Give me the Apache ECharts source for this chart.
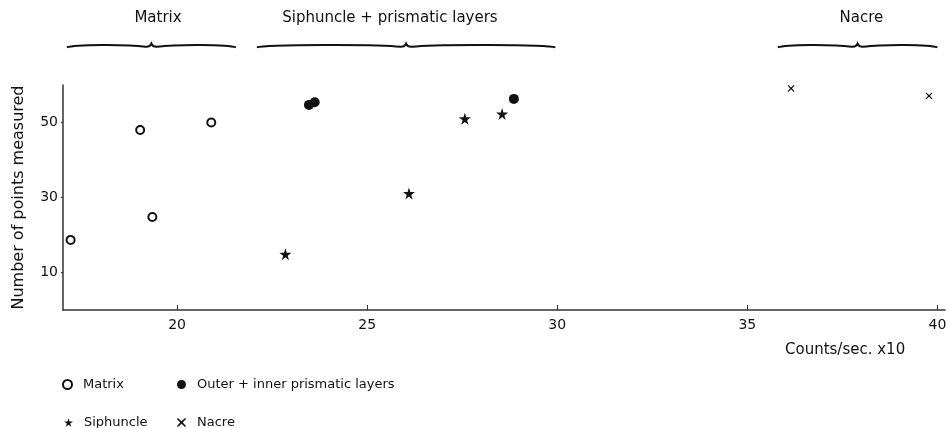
<!DOCTYPE html>
<html>
<head>
<meta charset="utf-8">
<script src="https://cdn.jsdelivr.net/npm/echarts@6/dist/echarts.min.js"></script>
<style>
html,body{margin:0;padding:0;background:#fff;}
#chart{width:949px;height:428px;}
</style>
</head>
<body>
<div id="chart"></div>
<script>
// ---- data ----
const matrixPts = [[17.2, 18.7], [19.03, 48.0], [19.35, 24.8], [20.9, 50.0]];
const prismaticPts = [[23.47, 54.7], [23.62, 55.4], [28.86, 56.3]];
const siphunclePts = [[22.85, 14.9], [26.1, 31.1], [27.57, 51.0], [28.55, 52.3]];
const nacrePts = [[36.15, 59.1], [39.78, 57.1]];
const xTicks = [20, 25, 30, 35, 40];
const yTicks = [10, 30, 50];
const groupNames = ['Matrix', 'Siphuncle + prismatic layers', 'Nacre'];
const groupRanges = [[17.1, 21.55], [22.1, 29.95], [35.8, 40.0]];
const groupLabelAt = [19.5, 25.6, 38.0];
const seriesNames = ['Matrix', 'Outer + inner prismatic layers', 'Siphuncle', 'Nacre'];

const FONT = 'DejaVu Sans';
const INK = '#111';
const STAR = 'path://M50,0 L61,35 L98,35 L68,57 L79,91 L50,70 L21,91 L32,57 L2,35 L39,35 Z';
const CROSS = 'path://M1,0 L5,3.6 L9,0 L10,1 L6.4,5 L10,9 L9,10 L5,6.4 L1,10 L0,9 L3.6,5 L0,1 Z';

const chart = echarts.init(document.getElementById('chart'), null, {renderer: 'canvas'});

function legendAt(name, left, top) {
  return {
    data: [name], left: left, top: top, itemWidth: 9, itemHeight: 9,
    textStyle: {fontFamily: FONT, fontSize: 13, color: INK, padding: [0, 0, 0, 6]},
    selectedMode: false
  };
}

const option = {
  backgroundColor: '#fff',
  animation: false,
  textStyle: {fontFamily: FONT},
  title: {
    text: 'Counts/sec. x10', left: 780, top: 338,
    textStyle: {fontFamily: FONT, fontSize: 15, fontWeight: 'normal', color: INK}
  },
  legend: [
    legendAt(seriesNames[0], 57, 373),
    legendAt(seriesNames[1], 172, 373),
    legendAt(seriesNames[2], 59, 411),
    legendAt(seriesNames[3], 172, 411)
  ],
  grid: {left: 63, right: 4, top: 85, bottom: 118, containLabel: false, outerBoundsMode: 'none'},
  xAxis: {
    type: 'value', min: 17, max: 40.2,
    splitLine: {show: false},
    axisLine: {lineStyle: {color: '#333', width: 1.5}},
    axisTick: {show: true, inside: true, length: 5, customValues: xTicks, lineStyle: {color: '#333'}},
    axisLabel: {customValues: xTicks, margin: 8, fontFamily: FONT, fontSize: 14, color: INK}
  },
  yAxis: {
    type: 'value', min: 0, max: 60,
    name: 'Number of points measured', nameLocation: 'middle', nameGap: 36,
    nameTextStyle: {fontFamily: FONT, fontSize: 16, color: INK},
    splitLine: {show: false},
    axisLine: {show: true, lineStyle: {color: '#333', width: 1.5}},
    axisTick: {show: true, length: 2, customValues: yTicks, lineStyle: {color: '#333'}},
    axisLabel: {customValues: yTicks, margin: 5, fontFamily: FONT, fontSize: 14, color: INK}
  },
  series: [
    {
      name: seriesNames[0], type: 'scatter', data: matrixPts,
      symbol: 'emptyCircle', symbolSize: 8,
      itemStyle: {color: INK, borderWidth: 1, opacity: 1}
    },
    {
      name: seriesNames[1], type: 'scatter', data: prismaticPts,
      symbol: 'circle', symbolSize: 10,
      itemStyle: {color: INK, opacity: 1}
    },
    {
      name: seriesNames[2], type: 'scatter', data: siphunclePts,
      symbol: STAR, symbolSize: 12,
      itemStyle: {color: INK, opacity: 1}
    },
    {
      name: seriesNames[3], type: 'scatter', data: nacrePts,
      symbol: CROSS, symbolSize: 7,
      itemStyle: {color: INK, opacity: 1}
    },
    {
      name: 'groups', type: 'custom', clip: false, silent: true,
      data: groupRanges.map(function (r, i) { return {value: [r[0], r[1], groupLabelAt[i]], name: groupNames[i]}; }),
      encode: {x: [0, 1]},
      renderItem: function (params, api) {
        const p0 = api.coord([api.value(0), 60]);
        const p1 = api.coord([api.value(1), 60]);
        const pl = api.coord([api.value(2), 60]);
        const x0 = p0[0], x1 = p1[0], xm = (x0 + x1) / 2;
        const yb = 45;
        const path =
          'M' + x0 + ',' + (yb + 2.4) +
          ' C' + (x0 + 8) + ',' + (yb - 0.6) + ' ' + (xm - 25) + ',' + (yb - 0.8) + ' ' + (xm - 6) + ',' + (yb + 1.8) +
          ' Q' + (xm - 1.5) + ',' + (yb + 2.2) + ' ' + xm + ',' + (yb - 1.4) +
          ' Q' + (xm + 1.5) + ',' + (yb + 2.2) + ' ' + (xm + 6) + ',' + (yb + 1.8) +
          ' C' + (xm + 25) + ',' + (yb - 0.8) + ' ' + (x1 - 8) + ',' + (yb - 0.6) + ' ' + x1 + ',' + (yb + 2.4);
        return {
          type: 'group',
          children: [
            {type: 'path', shape: {pathData: path}, style: {fill: null, stroke: INK, lineWidth: 2}},
            {type: 'text', x: pl[0], y: 18,
             style: {text: groupNames[params.dataIndex], fontFamily: FONT, fontSize: 15,
                     fill: INK, align: 'center', verticalAlign: 'middle'}}
          ]
        };
      }
    }
  ]
};
chart.setOption(option);
</script>
</body>
</html>
